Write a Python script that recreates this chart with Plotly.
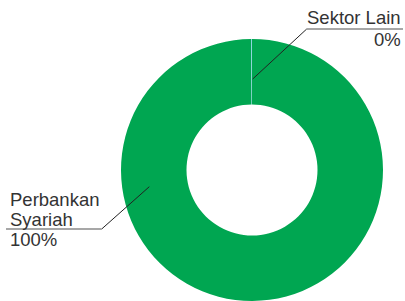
import plotly.graph_objects as go

W, H = 405, 301

categories = ["Perbankan Syariah", "Sektor Lain"]
values = [99.9, 0.1]
pct_labels = ["100%", "0%"]
colors = ["#00A651", "#7FD0E0"]

fig = go.Figure()
fig.add_trace(go.Pie(
    labels=categories,
    values=values,
    hole=0.5,
    sort=False,
    direction="clockwise",
    rotation=0,
    marker=dict(colors=colors, line=dict(width=0)),
    textinfo="none",
    hoverinfo="none",
    showlegend=False,
    domain=dict(x=[121 / W, 383 / W], y=[0, 262 / H]),
))

def px(x):
    return x / W

def py(y):
    return 1 - y / H

font = dict(family="Liberation Sans, Arial, sans-serif", size=18.5, color="#333333")

anns = []
anns.append(dict(x=px(402), y=py(18), text=categories[1], xanchor="right", yanchor="middle"))
anns.append(dict(x=px(402), y=py(39.5), text=pct_labels[1], xanchor="right", yanchor="middle"))
anns.append(dict(x=px(9), y=py(199), text=categories[0].split(" ")[0], xanchor="left", yanchor="middle"))
anns.append(dict(x=px(9), y=py(219), text=categories[0].split(" ")[1], xanchor="left", yanchor="middle"))
anns.append(dict(x=px(9), y=py(239.5), text=pct_labels[0], xanchor="left", yanchor="middle"))
for a in anns:
    a.update(xref="paper", yref="paper", showarrow=False, font=font, borderpad=0)

shapes = [
    dict(type="line", x0=px(252.7), y0=py(79), x1=px(306.7), y1=py(29), line=dict(color="#222222", width=1)),
    dict(type="line", x0=px(306.7), y0=py(29), x1=px(403), y1=py(29), line=dict(color="#8a8a8a", width=1.5)),
    dict(type="line", x0=px(149.3), y0=py(186.7), x1=px(101.7), y1=py(229), line=dict(color="#222222", width=1)),
    dict(type="line", x0=px(6), y0=py(229), x1=px(101.7), y1=py(229), line=dict(color="#8a8a8a", width=1.5)),
]
for s in shapes:
    s.update(xref="paper", yref="paper")

fig.update_layout(
    width=W, height=H,
    margin=dict(l=0, r=0, t=0, b=0),
    paper_bgcolor="white",
    plot_bgcolor="white",
    annotations=anns,
    shapes=shapes,
)

fig.write_html("out.html", config={"displayModeBar": False, "staticPlot": True},
               post_script="document.body.style.margin='0px';document.body.style.overflow='hidden';")
